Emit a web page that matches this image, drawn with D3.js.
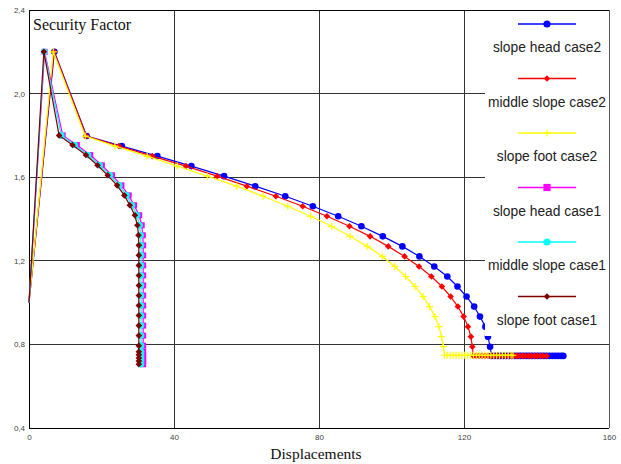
<!DOCTYPE html>
<html><head><meta charset="utf-8">
<script src="https://cdn.jsdelivr.net/npm/d3@7"></script>
<style>body{margin:0;background:#fff}svg{display:block}</style>
</head><body>
<svg id="c" width="621" height="464"></svg>
<script>
// ---------- data ----------
const xTicks = [0, 40, 80, 120, 160];
const yTicks = [0.4, 0.8, 1.2, 1.6, 2.0, 2.4];
const yTickLabels = ["0,4", "0,8", "1,2", "1,6", "2,0", "2,4"];
const seriesNames = ["slope head case2", "middle slope case2", "slope foot case2",
                     "slope head case1", "middle slope case1", "slope foot case1"];

const headCase2X = [0, 7.0, 15.9, 25.6, 35.4, 44.8, 53.8, 62.4, 70.7, 78.3, 85.3, 91.7, 97.6, 103.0, 107.7, 111.8, 115.4, 118.2, 120.7, 122.8, 124.4, 125.9, 126.6, 127.2,
  127.6, 128.4, 129.2, 130.0, 130.8, 131.6, 132.4, 133.2, 134.0, 134.8, 135.6, 136.4, 137.2, 138.0, 138.8, 139.6, 140.4, 141.2, 142.0, 142.8, 143.6, 144.4, 145.2, 146.0, 146.8, 147.4];
const headCase2Y = [1.0, 2.2, 1.797, 1.749, 1.701, 1.653, 1.605, 1.557, 1.509, 1.461, 1.413, 1.365, 1.317, 1.269, 1.221, 1.173, 1.125, 1.077, 1.029, 0.981, 0.933, 0.885, 0.837, 0.789,
  0.745, 0.745, 0.745, 0.745, 0.745, 0.745, 0.745, 0.745, 0.745, 0.745, 0.745, 0.745, 0.745, 0.745, 0.745, 0.745, 0.745, 0.745, 0.745, 0.745, 0.745, 0.745, 0.745, 0.745, 0.745, 0.745];

const middleCase2X = [0, 6.9, 15.8, 24.8, 34.0, 43.3, 51.9, 60.1, 68.1, 75.5, 82.2, 88.4, 94.1, 99.1, 103.6, 107.6, 111.0, 113.9, 116.3, 118.3, 119.9, 121.1, 121.9, 122.3,
  122.6, 123.4, 124.2, 125.0, 125.8, 126.6, 127.4, 128.2, 129.0, 129.8, 130.6, 131.4, 132.2, 133.0, 133.8, 134.6, 135.4, 136.2, 137.0, 137.8, 138.6, 139.4, 140.2, 141.0, 141.8, 142.8];
const middleCase2Y = [1.0, 2.2, 1.797, 1.749, 1.701, 1.653, 1.605, 1.557, 1.509, 1.461, 1.413, 1.365, 1.317, 1.269, 1.221, 1.173, 1.125, 1.077, 1.029, 0.981, 0.933, 0.885, 0.837, 0.789,
  0.745, 0.745, 0.745, 0.745, 0.745, 0.745, 0.745, 0.745, 0.745, 0.745, 0.745, 0.745, 0.745, 0.745, 0.745, 0.745, 0.745, 0.745, 0.745, 0.745, 0.745, 0.745, 0.745, 0.745, 0.745, 0.745];

const footCase2X = [0, 6.7, 15.5, 23.7, 32.6, 40.9, 49.2, 57.3, 64.6, 71.4, 77.7, 83.5, 88.6, 93.3, 97.5, 100.9, 103.9, 106.5, 108.7, 110.5, 112.0, 113.1, 113.8, 114.3,
  114.6, 115.4, 116.2, 117.0, 117.8, 118.6, 119.4, 120.2, 121.0, 121.8, 122.6, 123.4, 124.2, 125.0, 125.8, 126.6, 127.4, 128.2, 129.0, 129.8, 130.6, 131.4, 132.2, 133.0, 133.5];
const footCase2Y = [1.0, 2.2, 1.797, 1.749, 1.701, 1.653, 1.605, 1.557, 1.509, 1.461, 1.413, 1.365, 1.317, 1.269, 1.221, 1.173, 1.125, 1.077, 1.029, 0.981, 0.933, 0.885, 0.837, 0.789,
  0.748, 0.748, 0.748, 0.748, 0.748, 0.748, 0.748, 0.748, 0.748, 0.748, 0.748, 0.748, 0.748, 0.748, 0.748, 0.748, 0.748, 0.748, 0.748, 0.748, 0.748, 0.748, 0.748, 0.748, 0.748];

const headCase1X = [0, 4.3, 9.3, 13.2, 16.9, 20.1, 22.9, 25.5, 27.5, 29.0, 30.4, 31.1, 31.4, 31.5, 31.5, 31.5, 31.5, 31.5, 31.5, 31.5, 31.5, 31.5, 31.5, 31.5, 31.5, 31.5, 31.5, 31.5, 31.5];
const headCase1Y = [1.0, 2.2, 1.800, 1.754, 1.706, 1.657, 1.609, 1.561, 1.513, 1.466, 1.418, 1.370, 1.322, 1.274, 1.226, 1.178, 1.130, 1.082, 1.034, 0.986, 0.938, 0.890, 0.842, 0.794, 0.765, 0.750, 0.735, 0.720, 0.705];

const middleCase1X = [0, 4.2, 8.9, 12.6, 16.3, 19.5, 22.3, 24.9, 26.9, 28.4, 29.8, 30.5, 30.8, 30.9, 30.9, 30.9, 30.9, 30.9, 30.9, 30.9, 30.9, 30.9, 30.9, 30.9, 30.9, 30.9, 30.9, 30.9, 30.9];
const middleCase1Y = [1.0, 2.2, 1.800, 1.754, 1.706, 1.657, 1.609, 1.561, 1.513, 1.466, 1.418, 1.370, 1.322, 1.274, 1.226, 1.178, 1.130, 1.082, 1.034, 0.986, 0.938, 0.890, 0.842, 0.794, 0.765, 0.750, 0.735, 0.720, 0.705];

const footCase1X = [0, 4.1, 8.3, 12.0, 15.7, 18.9, 21.7, 24.3, 26.3, 27.8, 29.2, 29.9, 30.2, 30.3, 30.3, 30.3, 30.3, 30.3, 30.3, 30.3, 30.3, 30.3, 30.3, 30.3, 30.3, 30.3, 30.3, 30.3, 30.3];
const footCase1Y = [1.0, 2.2, 1.800, 1.754, 1.706, 1.657, 1.609, 1.561, 1.513, 1.466, 1.418, 1.370, 1.322, 1.274, 1.226, 1.178, 1.130, 1.082, 1.034, 0.986, 0.938, 0.890, 0.842, 0.794, 0.765, 0.750, 0.735, 0.720, 0.705];

const seriesX = [headCase2X, middleCase2X, footCase2X, headCase1X, middleCase1X, footCase1X];
const seriesY = [headCase2Y, middleCase2Y, footCase2Y, headCase1Y, middleCase1Y, footCase1Y];
const seriesColors = ["#0000ff", "#ff0000", "#ffff00", "#ff00ff", "#00ffff", "#800000"];
const seriesMarkers = ["circle", "diamond", "plus", "square", "circle", "diamond"];

// ---------- chart ----------
const svg = d3.select("#c");
const L = 29, R = 609, T = 10, B = 428;
const x = d3.scaleLinear().domain([0, 160]).range([L, R]);
const y = d3.scaleLinear().domain([0.4, 2.4]).range([B, T]);

// grid
const grid = svg.append("g");
grid.selectAll("line.v").data(xTicks.slice(1, -1)).enter().append("line")
  .attr("x1", d => x(d)).attr("x2", d => x(d)).attr("y1", T).attr("y2", B)
  .attr("stroke", "#333").attr("stroke-width", 1).attr("shape-rendering", "crispEdges");
grid.selectAll("line.h").data(yTicks.slice(1, -1)).enter().append("line")
  .attr("x1", L).attr("x2", R).attr("y1", d => y(d)).attr("y2", d => y(d))
  .attr("stroke", "#333").attr("stroke-width", 1).attr("shape-rendering", "crispEdges");

// axes
const xAxis = d3.axisBottom(x).tickValues(xTicks).tickSize(0).tickPadding(6).tickFormat(d3.format("d"));
const gx = svg.append("g").attr("transform", `translate(0,${B})`).call(xAxis);
const yAxis = d3.axisLeft(y).tickValues(yTicks).tickSize(0).tickPadding(4)
  .tickFormat((d, i) => yTickLabels[i]);
const gy = svg.append("g").attr("transform", `translate(${L},0)`).call(yAxis);
[gx, gy].forEach(g => {
  g.select(".domain").remove();
  g.selectAll("text").attr("font-family", "Liberation Sans, Arial, sans-serif")
    .attr("font-size", 8).attr("fill", "#444");
});

// frame
svg.append("line").attr("x1", L).attr("x2", R).attr("y1", T).attr("y2", T).attr("stroke", "#000").attr("shape-rendering", "crispEdges");
svg.append("line").attr("x1", L).attr("x2", R).attr("y1", B).attr("y2", B).attr("stroke", "#000").attr("shape-rendering", "crispEdges");
svg.append("line").attr("x1", L).attr("x2", L).attr("y1", T).attr("y2", B).attr("stroke", "#000").attr("shape-rendering", "crispEdges");
svg.append("line").attr("x1", R).attr("x2", R).attr("y1", T).attr("y2", B).attr("stroke", "#555").attr("shape-rendering", "crispEdges");

// marker drawing
function drawMarker(g, type, color, cx, cy, s) {
  if (type === "circle") {
    g.append("circle").attr("cx", cx).attr("cy", cy).attr("r", s).attr("fill", color);
  } else if (type === "diamond") {
    g.append("path").attr("d", `M${cx},${cy - s}L${cx + s},${cy}L${cx},${cy + s}L${cx - s},${cy}Z`).attr("fill", color);
  } else if (type === "square") {
    g.append("rect").attr("x", cx - s).attr("y", cy - s).attr("width", 2 * s).attr("height", 2 * s).attr("fill", color);
  } else if (type === "plus") {
    g.append("path").attr("d", `M${cx - s},${cy}H${cx + s}M${cx},${cy - s}V${cy + s}`)
      .attr("stroke", color).attr("stroke-width", 1.2).attr("fill", "none");
  }
}
const markerSize = { circle: 3.3, diamond: 3.3, square: 3, plus: 3.5 };

const line = d3.line().x(d => x(d[0])).y(d => y(d[1]));
const plot = svg.append("g");
seriesX.forEach((xs, i) => {
  const pts = xs.map((v, j) => [v, seriesY[i][j]]);
  const g = plot.append("g");
  g.append("path").datum(pts).attr("d", line).attr("fill", "none")
    .attr("stroke", seriesColors[i]).attr("stroke-width", 1.2);
  pts.slice(1).forEach(p => drawMarker(g, seriesMarkers[i], seriesColors[i], x(p[0]), y(p[1]), markerSize[seriesMarkers[i]]));
});

// legend
const lg = svg.append("g");
lg.append("rect").attr("x", 485).attr("y", T + 1).attr("width", R - 485).attr("height", 325).attr("fill", "#fff");
seriesNames.forEach((name, i) => {
  const ly = 24 + i * 54.5;
  lg.append("line").attr("x1", 518).attr("x2", 576).attr("y1", ly).attr("y2", ly)
    .attr("stroke", seriesColors[i]).attr("stroke-width", 1.5);
  drawMarker(lg, seriesMarkers[i], seriesColors[i], 547, ly, seriesMarkers[i] === "plus" ? 3.5 : (seriesMarkers[i] === "diamond" ? 3.2 : 3.6));
  lg.append("text").attr("x", 547).attr("y", ly + 28).attr("text-anchor", "middle")
    .attr("font-family", "Liberation Sans, Arial, sans-serif").attr("font-size", 13.8)
    .attr("fill", "#222").text(name);
});

// titles
svg.append("text").attr("x", 33).attr("y", 30).attr("font-family", "Liberation Serif, Times New Roman, serif")
  .attr("font-size", 16).attr("fill", "#111").text("Security Factor");
svg.append("text").attr("x", 316).attr("y", 459).attr("text-anchor", "middle")
  .attr("font-family", "Liberation Serif, Times New Roman, serif")
  .attr("font-size", 15.5).attr("fill", "#111").text("Displacements");
</script>
</body></html>
